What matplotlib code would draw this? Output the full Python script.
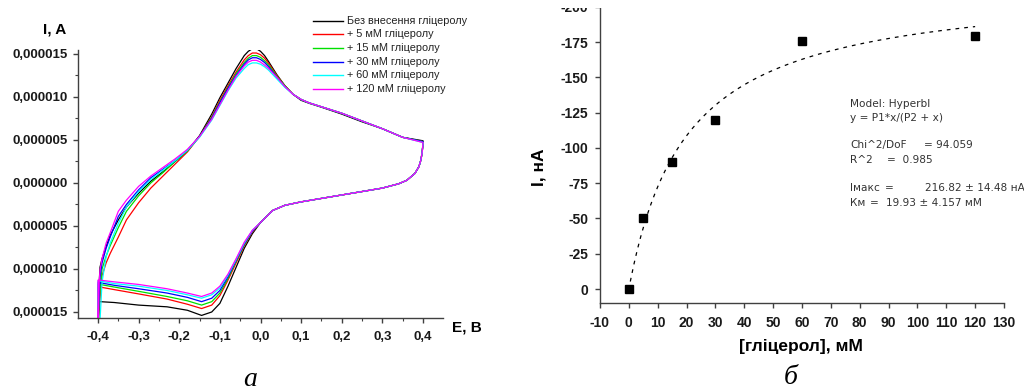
import numpy as np
import matplotlib
matplotlib.use("Agg")
import matplotlib.pyplot as plt
from matplotlib.lines import Line2D
from matplotlib.patches import Rectangle

plt.rcParams['font.family'] = ['Liberation Sans', 'DejaVu Sans']
plt.rcParams['axes.unicode_minus'] = False

W, H = 1024, 392

# ---- panel a: cyclic voltammograms (current in uA) ----
labels = ['Без внесення гліцеролу', '+ 5 мМ гліцеролу', '+ 15 мМ гліцеролу',
          '+ 30 мМ гліцеролу', '+ 60 мМ гліцеролу', '+ 120 мМ гліцеролу']
colors = ['#000000', '#ff0000', '#00e000', '#0000ff', '#00ffff', '#ff00ff']

E_fwd = [-0.400, -0.397, -0.395, -0.39, -0.38, -0.37, -0.35, -0.33, -0.30, -0.27,
         -0.24, -0.21, -0.18, -0.15, -0.12, -0.10, -0.08, -0.06, -0.04, -0.03,
         -0.02, -0.01, 0.00, 0.01, 0.02, 0.04, 0.06, 0.08, 0.10, 0.12,
         0.15, 0.20, 0.25, 0.30, 0.35, 0.40]
I_fwd_0 = [-17.0, -11.5, -9.8, -8.8, -7.4, -6.1, -4.3, -2.8, -1.2, 0.2,
           1.3, 2.5, 3.7, 5.5, 8.0, 9.9, 11.6, 13.3, 14.8, 15.3,
           15.6, 15.6, 15.3, 14.8, 14.1, 12.6, 11.3, 10.3, 9.6, 9.25,
           8.8, 8.0, 7.1, 6.3, 5.3, 4.9]
I_fwd_5 = [-17.0, -15.0, -13.5, -10.8, -9.3, -8.2, -6.3, -4.3, -2.3, -0.6,
           0.8, 2.2, 3.6, 5.4, 7.7, 9.6, 11.3, 12.9, 14.3, 14.8,
           15.1, 15.1, 14.9, 14.5, 13.9, 12.5, 11.3, 10.3, 9.7, 9.3,
           8.85, 8.1, 7.2, 6.3, 5.3, 4.8]
I_fwd_15 = [-17.0, -14.0, -12.5, -10.0, -8.5, -7.3, -5.2, -3.3, -1.5, 0.0,
            1.2, 2.5, 3.7, 5.4, 7.6, 9.4, 11.1, 12.7, 14.0, 14.5,
            14.8, 14.8, 14.6, 14.2, 13.7, 12.4, 11.3, 10.3, 9.7, 9.3,
            8.85, 8.1, 7.2, 6.3, 5.3, 4.8]
I_fwd_30 = [-17.0, -13.0, -11.0, -9.3, -7.6, -6.3, -3.9, -2.5, -0.8, 0.6,
            1.6, 2.6, 3.8, 5.4, 7.5, 9.3, 11.0, 12.5, 13.8, 14.3,
            14.55, 14.55, 14.35, 14.0, 13.5, 12.3, 11.2, 10.3, 9.7, 9.3,
            8.85, 8.1, 7.2, 6.3, 5.3, 4.8]
I_fwd_60 = [-17.0, -17.0, -16.0, -11.5, -8.6, -7.0, -4.7, -2.8, -1.0, 0.4,
            1.5, 2.6, 3.8, 5.3, 7.3, 9.0, 10.7, 12.2, 13.3, 13.75,
            13.95, 13.95, 13.8, 13.5, 13.1, 12.1, 11.1, 10.3, 9.7, 9.3,
            8.85, 8.1, 7.2, 6.3, 5.3, 4.7]
I_fwd_120 = [-17.0, -11.5, -10.1, -8.8, -7.0, -5.8, -3.3, -2.0, -0.4, 0.8,
             1.8, 2.8, 3.9, 5.4, 7.4, 9.1, 10.8, 12.4, 13.6, 14.05,
             14.25, 14.25, 14.05, 13.7, 13.3, 12.3, 11.2, 10.3, 9.7, 9.3,
             8.85, 8.1, 7.2, 6.3, 5.3, 4.7]

E_rev = [0.40, 0.398, 0.395, 0.39, 0.38, 0.36, 0.34, 0.30, 0.25, 0.20,
         0.15, 0.10, 0.06, 0.03, 0.00, -0.02, -0.04, -0.06, -0.08, -0.10,
         -0.12, -0.145, -0.18, -0.23, -0.30, -0.36, -0.395, -0.400]
I_rev_common = [4.6, 3.6, 2.7, 1.9, 1.1, 0.3, -0.1, -0.6, -1.0, -1.4,
                -1.8, -2.2, -2.6, -3.2, -4.6]
I_rev_0 = [-5.9, -7.6, -9.8, -12.0, -14.0, -15.0, -15.4, -14.8, -14.4, -14.2, -13.9, -13.8, -13.8]
I_rev_5 = [-5.7, -7.3, -9.3, -11.3, -13.1, -14.2, -14.6, -14.1, -13.5, -12.9, -12.4, -12.1, -12.1]
I_rev_15 = [-5.6, -7.2, -9.1, -11.1, -12.8, -13.8, -14.2, -13.7, -13.2, -12.6, -12.1, -11.8, -11.8]
I_rev_30 = [-5.6, -7.1, -9.0, -10.9, -12.5, -13.4, -13.8, -13.3, -12.8, -12.3, -11.9, -11.6, -11.6]
I_rev_60 = [-5.5, -7.0, -8.9, -10.7, -12.2, -13.0, -13.4, -13.0, -12.5, -12.0, -11.7, -11.4, -11.4]
I_rev_120 = [-5.5, -6.9, -8.8, -10.6, -12.0, -12.8, -13.2, -12.8, -12.3, -11.8, -11.5, -11.3, -11.3]

fwd_all = [I_fwd_0, I_fwd_5, I_fwd_15, I_fwd_30, I_fwd_60, I_fwd_120]
rev_all = [I_rev_0, I_rev_5, I_rev_15, I_rev_30, I_rev_60, I_rev_120]

x1_ticks = [-0.4, -0.3, -0.2, -0.1, 0.0, 0.1, 0.2, 0.3, 0.4]
x1_labels = ['-0,4', '-0,3', '-0,2', '-0,1', '0,0', '0,1', '0,2', '0,3', '0,4']
y1_ticks = [15, 10, 5, 0, -5, -10, -15]
y1_labels = ['0,000015', '0,000010', '0,000005', '0,000000', '0,000005', '0,000010', '0,000015']

# ---- panel b: calibration ----
glyc = [0, 5, 15, 30, 60, 120]
current = [0, -50, -90, -120, -176, -179]
I_max = 216.82
K_m = 19.93
x2_ticks = list(range(-10, 131, 10))
y2_ticks = [0, -25, -50, -75, -100, -125, -150, -175, -200]


def frac(x0, y0, x1, y1):
    return [x0 / W, 1 - y1 / H, (x1 - x0) / W, (y1 - y0) / H]


def fx(x):
    return x / W


def fy(y):
    return 1 - y / H


fig = plt.figure(figsize=(W / 100, H / 100), dpi=100)
axc = '#404040'

# panel a
ax1 = fig.add_axes(frac(78, 50, 443, 318))
for Ifw, Irv, c in zip(fwd_all, rev_all, colors):
    E = E_fwd + E_rev + [E_fwd[0]]
    I = Ifw + I_rev_common + Irv + [Ifw[0]]
    ax1.plot(E, I, color=c, lw=0.9)
ax1.set_xlim(-0.4492, 0.4492)
ax1.set_ylim(-15.7, 15.45)
ax1.set_xticks(x1_ticks)
ax1.set_xticklabels(x1_labels)
ax1.set_yticks(y1_ticks)
ax1.set_yticklabels(y1_labels)
ax1.set_xticks(np.arange(-0.35, 0.4, 0.1), minor=True)
ax1.set_yticks(np.arange(-12.5, 15, 5), minor=True)

# panel b
ax2 = fig.add_axes(frac(600, -2, 1004, 303))
ax2.plot(glyc, current, 's', color='black', ms=6)
xf = np.linspace(0.5, 120, 200)
ax2.plot(xf, -I_max * xf / (K_m + xf), color='black', lw=0.9, linestyle=(0, (3, 4)))
ax2.set_xlim(-10, 130)
ax2.set_ylim(9.92, -206.2)
ax2.set_xticks(x2_ticks)
ax2.set_xticklabels([str(v) for v in x2_ticks])
ax2.set_yticks(y2_ticks)
ax2.set_yticklabels([str(v) for v in y2_ticks])

for ax in (ax1, ax2):
    for s in ('top', 'right'):
        ax.spines[s].set_visible(False)
    for s in ('left', 'bottom'):
        ax.spines[s].set_color(axc)
        ax.spines[s].set_linewidth(1.0)
    ax.tick_params(which='major', direction='out', length=3.5, width=1.0, color=axc)
    ax.tick_params(which='minor', direction='out', length=2, width=0.8, color=axc)
    for t in ax.get_xticklabels() + ax.get_yticklabels():
        t.set_fontweight('bold')
        t.set_color('#1a1a1a')

ax1.tick_params(axis='both', labelsize=9.5)
ax1.tick_params(axis='x', pad=6)
ax1.tick_params(axis='y', pad=4)
ax2.tick_params(axis='both', labelsize=10)
ax2.tick_params(axis='x', pad=6)
ax2.tick_params(axis='y', pad=5)

# axis titles
fig.text(fx(55), fy(29), 'I, A', fontsize=11, fontweight='bold', ha='center', va='center')
fig.text(fx(467), fy(327), 'E, B', fontsize=11, fontweight='bold', ha='center', va='center')
fig.text(fx(801), fy(347), '[гліцерол], мМ', fontsize=12.5, fontweight='bold', ha='center', va='center')
fig.text(fx(539), fy(167), 'I, нА', fontsize=12.5, fontweight='bold', ha='center', va='center', rotation=90)

# legend of panel a
leg_y = [21, 34.3, 47.7, 61.7, 75, 89]
for lab, c, yy in zip(labels, colors, leg_y):
    fig.add_artist(Line2D([fx(313), fx(343)], [fy(yy), fy(yy)], color=c, lw=1.0))
    fig.text(fx(347), fy(yy), lab, fontsize=7.8, va='center', ha='left', color='#222222')

# fit report of panel b
tc = '#333333'
fr = dict(fontsize=7.6, va='center', color=tc, family='DejaVu Sans')
fig.text(fx(850), fy(104), 'Model: Hyperbl', **fr)
fig.text(fx(850), fy(118), 'y = P1*x/(P2 + x)', **fr)
fig.text(fx(850), fy(145), 'Chi^2/DoF', **fr)
fig.text(fx(924), fy(145), '= 94.059', **fr)
fig.text(fx(850), fy(160), 'R^2', **fr)
fig.text(fx(887), fy(160), '=  0.985', **fr)
fig.text(fx(850), fy(188), 'Iмакс', **fr)
fig.text(fx(885), fy(188), '=', **fr)
fig.text(fx(925), fy(188), '%.2f ± 14.48 нА' % I_max, **fr)
fig.text(fx(850), fy(203), 'Км', **fr)
fig.text(fx(870), fy(203), '=', **fr)
fig.text(fx(886), fy(203), '%.2f ± 4.157 мМ' % K_m, **fr)

# captions
fig.text(fx(250), fy(380), 'а', fontsize=20, family='Liberation Serif', style='italic',
         ha='center', va='center')
fig.text(fx(791), fy(378), 'б', fontsize=20, family='Liberation Serif', style='italic',
         ha='center', va='center')

# the source image is cut off at the top
fig.add_artist(Rectangle((0, fy(8)), 1, 8 / H, transform=fig.transFigure,
                         facecolor='white', edgecolor='none', zorder=10))

fig.savefig('out.png', dpi=100, facecolor='white')
